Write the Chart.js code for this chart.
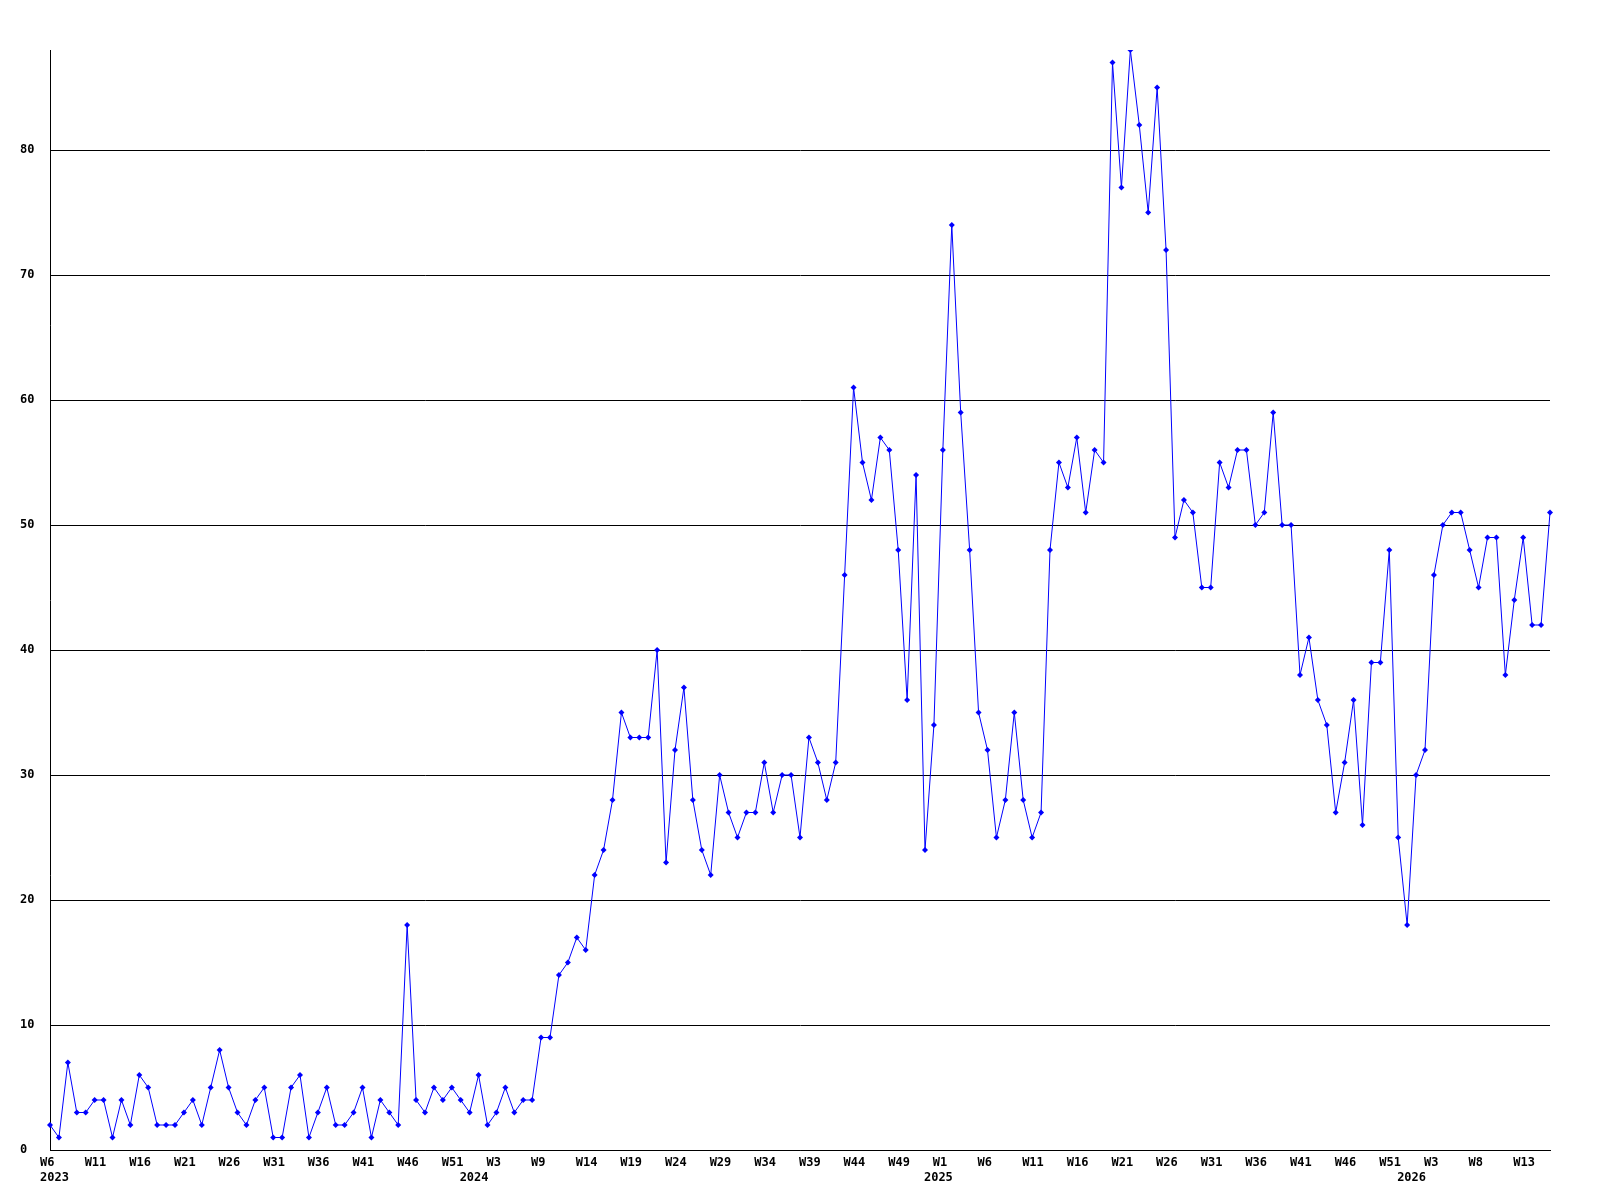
<!DOCTYPE html>
<html>
<head>
<meta charset="utf-8">
<script src="https://cdn.jsdelivr.net/npm/chart.js@4.4.1/dist/chart.umd.min.js"></script>
<style>
  html, body { margin: 0; padding: 0; background: #fff; }
  #wrap { width: 1600px; height: 1200px; }
</style>
</head>
<body>
<div id="wrap"><canvas id="weeklyChart" width="1600" height="1200"></canvas></div>
<script>
// Week labels, one list per year (as printed on the axis)
const weeks2023 = ['W6', 'W7', 'W8', 'W9', 'W10', 'W11', 'W12', 'W13', 'W14', 'W15', 'W16', 'W17', 'W18', 'W19', 'W20',
    'W21', 'W22', 'W23', 'W24', 'W25', 'W26', 'W27', 'W28', 'W29', 'W30', 'W31', 'W32', 'W33', 'W34', 'W35', 'W36',
    'W37', 'W38', 'W39', 'W40', 'W41', 'W42', 'W43', 'W44', 'W45', 'W46', 'W47', 'W48', 'W49', 'W50', 'W51', 'W52'];
const weeks2024 = ['W0', 'W1', 'W2', 'W3', 'W4', 'W5', 'W6', 'W7', 'W9', 'W10', 'W11', 'W12', 'W13', 'W14', 'W15',
    'W16', 'W17', 'W18', 'W19', 'W20', 'W21', 'W22', 'W23', 'W24', 'W25', 'W26', 'W27', 'W28', 'W29', 'W30', 'W31',
    'W32', 'W33', 'W34', 'W35', 'W36', 'W37', 'W38', 'W39', 'W40', 'W41', 'W42', 'W43', 'W44', 'W45', 'W46', 'W47',
    'W48', 'W49', 'W50', 'W51', 'W52'];
const weeks2025 = ['W0', 'W1', 'W2', 'W3', 'W4', 'W5', 'W6', 'W7', 'W8', 'W9', 'W10', 'W11', 'W12', 'W13', 'W14',
    'W15', 'W16', 'W17', 'W18', 'W19', 'W20', 'W21', 'W22', 'W23', 'W24', 'W25', 'W26', 'W27', 'W28', 'W29', 'W30',
    'W31', 'W32', 'W33', 'W34', 'W35', 'W36', 'W37', 'W38', 'W39', 'W40', 'W41', 'W42', 'W43', 'W44', 'W45', 'W46',
    'W47', 'W48', 'W49', 'W50', 'W51', 'W52'];
const weeks2026 = ['W0', 'W1', 'W2', 'W3', 'W4', 'W5', 'W6', 'W7', 'W8', 'W9', 'W10', 'W11', 'W12', 'W13', 'W14',
    'W15', 'W16'];
const years = ['2023', '2024', '2025', '2026'];

// Weekly counts
const counts = [
    2, 1, 7, 3, 3, 4, 4, 1, 4, 2, 6, 5, 2, 2, 2, 3, 4, 2, 5, 8, 5, 3, 2, 4, 5, 1, 1, 5, 6, 1, 3, 5, 2,
    2, 3, 5, 1, 4, 3, 2, 18, 4, 3, 5, 4, 5, 4, 3, 6, 2, 3, 5, 3, 4, 4, 9, 9, 14, 15, 17, 16,
    22, 24, 28, 35, 33, 33, 33, 40, 23, 32, 37, 28, 24, 22, 30, 27, 25, 27, 27, 31, 27, 30, 30, 25, 33, 31, 28, 31,
    46, 61, 55, 52, 57, 56, 48, 36, 54, 24, 34, 56, 74, 59, 48, 35, 32, 25, 28, 35, 28, 25, 27, 48, 55, 53, 57, 51,
    56, 55, 87, 77, 88, 82, 75, 85, 72, 49, 52, 51, 45, 45, 55, 53, 56, 56, 50, 51, 59, 50, 50,
    38, 41, 36, 34, 27, 31, 36, 26, 39, 39, 48, 25, 18, 30, 32, 46, 50, 51, 51, 48, 45, 49, 49, 38, 44, 49, 42, 42, 51
];

// One category per week; the year goes under the first week of each year
const weekLabels = [];
const yearLabels = [];
[weeks2023, weeks2024, weeks2025, weeks2026].forEach((weeks, y) => {
    weeks.forEach((w, i) => {
        weekLabels.push(w);
        yearLabels.push(i === 0 ? years[y] : '');
    });
});

Chart.defaults.font.family = '"DejaVu Sans Mono", monospace';
Chart.defaults.font.size = 12;
Chart.defaults.font.weight = 'bold';
Chart.defaults.color = '#000';

const ctx = document.getElementById('weeklyChart').getContext('2d');
const weeklyChart = new Chart(ctx, {
    type: 'line',
    data: {
        labels: weekLabels,
        datasets: [
            {
                data: counts,
                borderColor: '#0000ff',
                backgroundColor: '#0000ff',
                borderWidth: 1,
                pointStyle: 'rectRot',
                pointRadius: 3,
                pointBorderWidth: 0,
                tension: 0,
                fill: false
            }
        ]
    },
    options: {
        responsive: false,
        animation: false,
        devicePixelRatio: 1,
        layout: { padding: { left: 20, right: 50, top: 50, bottom: 0 } },
        plugins: {
            legend: { display: false },
            tooltip: { enabled: false }
        },
        scales: {
            x: {
                type: 'category',
                grid: { display: false, drawTicks: false },
                border: { display: true, color: '#000', width: 1 },
                ticks: {
                    autoSkip: false,
                    maxRotation: 0,
                    minRotation: 0,
                    align: 'start',
                    labelOffset: -10,
                    padding: 5,
                    font: { lineHeight: 1.25 },
                    callback: function (value, index) {
                        const week = index % 5 === 0 ? weekLabels[index] : '';
                        const year = yearLabels[index];
                        if (!week && !year) return null;
                        return year ? [week, year] : week;
                    }
                },
                afterFit: function (scale) { scale.height = 50; }
            },
            y: {
                min: 0,
                max: 88,
                grid: { color: '#000', lineWidth: 1, drawTicks: false },
                border: { display: true, color: '#000', width: 1 },
                ticks: { stepSize: 10, crossAlign: 'far', padding: 0 },
                afterBuildTicks: function (scale) {
                    scale.ticks = scale.ticks.filter(t => t.value % 10 === 0);
                },
                afterFit: function (scale) { scale.width = 30; }
            }
        }
    }
});
</script>
</body>
</html>
